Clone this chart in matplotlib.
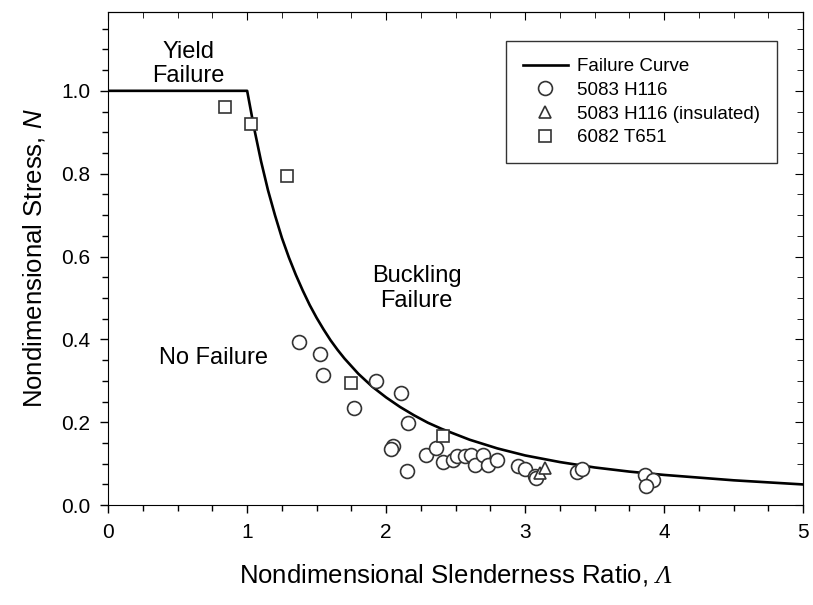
import numpy as np
import matplotlib
matplotlib.use("Agg")
import matplotlib.pyplot as plt
from matplotlib.ticker import MultipleLocator

plt.rcParams['font.family'] = ['Liberation Sans', 'DejaVu Sans']
plt.rcParams['mathtext.fontset'] = 'custom'
plt.rcParams['mathtext.rm'] = 'Liberation Serif:italic'
plt.rcParams['mathtext.it'] = 'Liberation Sans:italic'

# failure curve
curve_x = [0, 1.0, 1.05, 1.1, 1.15, 1.2, 1.25, 1.3, 1.35, 1.4, 1.45, 1.5,
           1.55, 1.6, 1.65, 1.7, 1.8, 1.9, 2.0, 2.1, 2.2, 2.3, 2.4, 2.6, 2.8,
           3.0, 3.25, 3.5, 3.75, 4.0, 4.5, 5.0]
curve_y = [1.0, 1.0, 0.91, 0.83, 0.76, 0.70, 0.645, 0.598, 0.556, 0.518,
           0.483, 0.452, 0.424, 0.398, 0.375, 0.354, 0.317, 0.286, 0.26,
           0.237, 0.217, 0.199, 0.184, 0.158, 0.137, 0.12, 0.104, 0.091,
           0.081, 0.073, 0.06, 0.05]

# 5083 H116
circ_x = [1.37, 1.525, 1.545, 1.765, 1.93, 2.11, 2.16, 2.05, 2.035, 2.15,
          2.29, 2.36, 2.41, 2.48, 2.51, 2.57, 2.61, 2.64, 2.695, 2.73, 2.80,
          2.945, 3.0, 3.07, 3.08, 3.37, 3.41, 3.86, 3.92, 3.87]
circ_y = [0.395, 0.365, 0.315, 0.235, 0.30, 0.27, 0.198, 0.143, 0.135, 0.082,
          0.12, 0.138, 0.105, 0.108, 0.118, 0.118, 0.12, 0.098, 0.12, 0.098,
          0.108, 0.095, 0.088, 0.07, 0.065, 0.08, 0.088, 0.072, 0.06, 0.047]

# 5083 H116 (insulated)
tri_x = [3.11, 3.14]
tri_y = [0.078, 0.09]

# 6082 T651
sq_x = [0.84, 1.03, 1.29, 1.75, 2.41]
sq_y = [0.96, 0.92, 0.795, 0.295, 0.168]

fig = plt.figure(figsize=(8.13, 6.05), dpi=100)
ax = fig.add_axes([0.133, 0.165, 0.855, 0.815])

ec = '#333333'
ax.plot(curve_x, curve_y, color='black', lw=1.9, label='Failure Curve', zorder=3)
ax.plot(circ_x, circ_y, 'o', ms=10, mfc='white', mec=ec, mew=1.2,
        label='5083 H116', zorder=4)
ax.plot(tri_x, tri_y, '^', ms=9, mfc='white', mec=ec, mew=1.2,
        label='5083 H116 (insulated)', zorder=4)
ax.plot(sq_x, sq_y, 's', ms=8.5, mfc='white', mec=ec, mew=1.2,
        label='6082 T651', zorder=4)

ax.set_xlim(0, 5)
ax.set_ylim(0, 1.19)
ax.xaxis.set_major_locator(MultipleLocator(1))
ax.xaxis.set_minor_locator(MultipleLocator(0.25))
ax.yaxis.set_major_locator(MultipleLocator(0.2))
ax.yaxis.set_minor_locator(MultipleLocator(0.05))
ax.yaxis.set_major_formatter(plt.FormatStrFormatter('%.1f'))
ax.tick_params(which='major', direction='out', length=6, width=1, labelsize=15, pad=7)
ax.tick_params(which='minor', direction='out', length=4, width=1)

# top and right ticks point inward
top = ax.secondary_xaxis('top')
top.xaxis.set_major_locator(MultipleLocator(1))
top.xaxis.set_minor_locator(MultipleLocator(0.25))
top.tick_params(which='major', direction='in', length=6, labeltop=False)
top.tick_params(which='minor', direction='in', length=4)
right = ax.secondary_yaxis('right')
right.yaxis.set_major_locator(MultipleLocator(0.2))
right.yaxis.set_minor_locator(MultipleLocator(0.05))
right.tick_params(which='major', direction='in', length=6, labelright=False)
right.tick_params(which='minor', direction='in', length=4)

ax.set_xlabel(r'Nondimensional Slenderness Ratio, $Λ$', fontsize=18.5, labelpad=14)
ax.set_ylabel(r'Nondimensional Stress, $\mathit{N}$', fontsize=18.5, labelpad=10)

ax.text(0.58, 1.065, 'Yield\nFailure', ha='center', va='center', fontsize=17,
        linespacing=1.15)
ax.text(2.22, 0.523, 'Buckling\nFailure', ha='center', va='center', fontsize=17,
        linespacing=1.15)
ax.text(0.76, 0.354, 'No Failure', ha='center', va='center', fontsize=17)

leg = ax.legend(loc='upper right', bbox_to_anchor=(0.962, 0.941), borderaxespad=0,
                fontsize=13.5, frameon=True, fancybox=False, edgecolor='black',
                handlelength=2.4, labelspacing=0.35, borderpad=0.9,
                handletextpad=0.5)
leg.get_frame().set_linewidth(1.0)

fig.savefig('out.png', dpi=100)
